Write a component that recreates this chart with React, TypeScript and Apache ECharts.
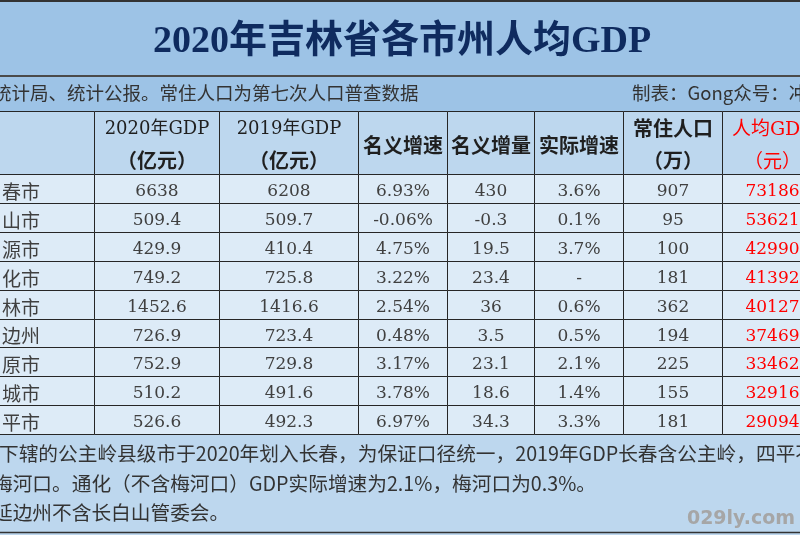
import { useEffect, useRef } from "react";
import * as echarts from "echarts";

// ---------- content ----------
const TITLE = "2020年吉林省各市州人均GDP";
const SOURCE_NOTE = "统计局、统计公报。常住人口为第七次人口普查数据";
const CREDIT = "制表：Gong众号：冲";
const HEADER_TOP_LINE = ["", "2020年GDP", "2019年GDP", "名义增速", "名义增量", "实际增速", "常住人口", "人均GDP"];
const HEADER_BOTTOM_LINE = ["", "（亿元）", "（亿元）", "", "", "", "（万）", "（元）"];
const CITIES = ["春市", "山市", "源市", "化市", "林市", "边州", "原市", "城市", "平市"];
const GDP_2020 = [6638, 509.4, 429.9, 749.2, 1452.6, 726.9, 752.9, 510.2, 526.6];
const GDP_2019 = [6208, 509.7, 410.4, 725.8, 1416.6, 723.4, 729.8, 491.6, 492.3];
const NOMINAL_GROWTH = [6.93, -0.06, 4.75, 3.22, 2.54, 0.48, 3.17, 3.78, 6.97];
const NOMINAL_INCREASE = [430, -0.3, 19.5, 23.4, 36, 3.5, 23.1, 18.6, 34.3];
const REAL_GROWTH: (number | null)[] = [3.6, 0.1, 3.7, null, 0.6, 0.5, 2.1, 1.4, 3.3];
const POPULATION = [907, 95, 100, 181, 362, 194, 225, 155, 181];
const GDP_PER_CAPITA = [73186, 53621, 42990, 41392, 40127, 37469, 33462, 32916, 29094];
const NOTES = [
  "下辖的公主岭县级市于2020年划入长春，为保证口径统一，2019年GDP长春含公主岭，四平不",
  "梅河口。通化（不含梅河口）GDP实际增速为2.1%，梅河口为0.3%。",
  "延边州不含长白山管委会。",
];
const WATERMARK = "029ly.com";

// ---------- layout / style ----------
const W = 800;
const H = 535;
const COL_EDGES = [-70, 94, 219, 358, 447, 534, 623, 722, 822];
const HEADER_TOP = 111;
const BODY_TOP = 174;
const ROW_H = 28.9;
const CITY_TEXT_X = 2;
const NOTE_Y = [452, 482, 511];
const SERIF = "'DejaVu Serif', 'Noto Sans CJK SC', serif";
const SANS = "'Noto Sans CJK SC', sans-serif";
const C_TITLE_BAND = "#9DC3E6";
const C_HEADER = "#BDD7EE";
const C_BODY = "#DDEBF7";
const C_NOTES = "#BDD7EE";
const C_TEXT = "#404040";
const C_RED = "#ff0000";

type Line = { text: string; font: string; fill: string; pos: "top" | "bottom" | "mid" };
type Cell = { col: number; row: number; fill: string; left?: boolean; lines: Line[] };

const fmtNum = (v: number) => String(v);
const fmtPct2 = (v: number) => v.toFixed(2) + "%";
const fmtPct1 = (v: number | null) => (v == null ? "-" : v.toFixed(1) + "%");

function buildCells(): Cell[] {
  const cells: Cell[] = [];
  for (let c = 0; c < HEADER_TOP_LINE.length; c++) {
    const red = c === 7;
    const fill = red ? C_RED : "#1f1f1f";
    let f1 = `bold 20px ${SANS}`;
    let f2 = `bold 20px ${SANS}`;
    if (c === 1 || c === 2) f1 = `normal 18px ${SERIF}`;
    if (c === 7) {
      f1 = `normal 19px ${SERIF}`;
      f2 = `normal 19px ${SANS}`;
    }
    const lines: Line[] = [];
    if (HEADER_BOTTOM_LINE[c]) {
      lines.push({ text: HEADER_TOP_LINE[c], font: f1, fill, pos: "top" });
      lines.push({ text: HEADER_BOTTOM_LINE[c], font: f2, fill, pos: "bottom" });
    } else if (HEADER_TOP_LINE[c]) {
      lines.push({ text: HEADER_TOP_LINE[c], font: f1, fill, pos: "mid" });
    }
    cells.push({ col: c, row: -1, fill: C_HEADER, lines });
  }
  const numFont = `normal 17px ${SERIF}`;
  CITIES.forEach((city, r) => {
    const vals = [
      fmtNum(GDP_2020[r]),
      fmtNum(GDP_2019[r]),
      fmtPct2(NOMINAL_GROWTH[r]),
      fmtNum(NOMINAL_INCREASE[r]),
      fmtPct1(REAL_GROWTH[r]),
      fmtNum(POPULATION[r]),
      fmtNum(GDP_PER_CAPITA[r]),
    ];
    cells.push({
      col: 0,
      row: r,
      fill: C_BODY,
      left: true,
      lines: [{ text: city, font: `normal 19px ${SANS}`, fill: C_TEXT, pos: "mid" }],
    });
    vals.forEach((t, i) => {
      cells.push({
        col: i + 1,
        row: r,
        fill: C_BODY,
        lines: [{ text: t, font: numFont, fill: i === 6 ? C_RED : C_TEXT, pos: "mid" }],
      });
    });
  });
  return cells;
}

export default function App() {
  const ref = useRef<HTMLDivElement>(null);
  useEffect(() => {
    if (!ref.current) return;
    const chart = echarts.init(ref.current, undefined, { renderer: "svg" });
    const cells = buildCells();

    const renderItem = (params: any, api: any) => {
      const cell = cells[params.dataIndex];
      const c = api.value(0) as number;
      const r = api.value(1) as number;
      const v0 = r < 0 ? HEADER_TOP : BODY_TOP + r * ROW_H;
      const v1 = r < 0 ? BODY_TOP : BODY_TOP + (r + 1) * ROW_H;
      const p0 = api.coord([COL_EDGES[c], v0]);
      const p1 = api.coord([COL_EDGES[c + 1], v1]);
      const x0 = Math.round(p0[0]) + 0.5;
      const y0 = Math.round(p0[1]) + 0.5;
      const x1 = Math.round(p1[0]) + 0.5;
      const y1 = Math.round(p1[1]) + 0.5;
      const children: any[] = [
        {
          type: "rect",
          shape: { x: x0, y: y0, width: x1 - x0, height: y1 - y0 },
          style: { fill: cell.fill, stroke: "#262626", lineWidth: 1 },
        },
      ];
      const tx = cell.left ? api.coord([CITY_TEXT_X, v0])[0] : (x0 + x1) / 2;
      cell.lines.forEach((l) => {
        const ty = l.pos === "top" ? y0 + 16 : l.pos === "bottom" ? y0 + 48 : (y0 + y1) / 2 + 1;
        children.push({
          type: "text",
          style: {
            text: l.text,
            x: tx,
            y: ty,
            align: cell.left ? "left" : "center",
            verticalAlign: "middle",
            font: l.font,
            fill: l.fill,
          },
        });
      });
      return { type: "group", children };
    };

    chart.setOption({
      animation: false,
      grid: { left: 0, right: 0, top: 0, bottom: 0 },
      xAxis: { type: "value", min: 0, max: W, show: false },
      yAxis: { type: "value", min: 0, max: H, inverse: true, show: false },
      graphic: [
        { type: "rect", z: -10, shape: { x: 0, y: 0, width: W, height: HEADER_TOP }, style: { fill: C_TITLE_BAND } },
        { type: "rect", z: -10, shape: { x: 0, y: 434, width: W, height: H - 434 }, style: { fill: C_NOTES } },
        { type: "line", z: 5, shape: { x1: 0, y1: 1, x2: W, y2: 1 }, style: { stroke: "#333", lineWidth: 2 } },
        { type: "line", z: 5, shape: { x1: 0, y1: 76, x2: W, y2: 76 }, style: { stroke: "#4a4a4a", lineWidth: 2 } },
        { type: "line", z: 5, shape: { x1: 0, y1: 532.5, x2: W, y2: 532.5 }, style: { stroke: "#333", lineWidth: 1.5 } },
        {
          type: "text",
          z: 5,
          style: {
            text: TITLE,
            x: 402,
            y: 39,
            align: "center",
            verticalAlign: "middle",
            font: "bold 38px 'Liberation Serif', 'Noto Sans CJK SC', serif",
            fill: "#0f2b5f",
          },
        },
        {
          type: "text",
          z: 5,
          style: { text: SOURCE_NOTE, x: -7, y: 92, align: "left", verticalAlign: "middle", font: `normal 18.5px ${SANS}`, fill: "#333" },
        },
        {
          type: "text",
          z: 5,
          style: { text: CREDIT, x: 632, y: 92, align: "left", verticalAlign: "middle", font: `normal 18.5px ${SANS}`, fill: "#333" },
        },
        ...NOTES.map((t, i) => ({
          type: "text",
          z: 5,
          style: {
            text: t,
            x: i === 0 ? -1 : -7,
            y: NOTE_Y[i],
            align: "left",
            verticalAlign: "middle",
            font: `normal 19.7px ${SANS}`,
            lineHeight: 20,
            fill: "#333",
          },
        })),
        {
          type: "text",
          z: 5,
          style: {
            text: WATERMARK,
            x: 741,
            y: 517,
            align: "center",
            verticalAlign: "middle",
            font: "bold 19px 'DejaVu Sans', sans-serif",
            fill: "#a6a6a6",
          },
        },
      ],
      series: [
        {
          type: "custom",
          renderItem,
          data: cells.map((c) => [c.col, c.row]),
          silent: true,
        },
      ],
    });
    return () => chart.dispose();
  }, []);
  return <div ref={ref} style={{ position: "fixed", left: 0, top: 0, width: W, height: H }} />;
}
